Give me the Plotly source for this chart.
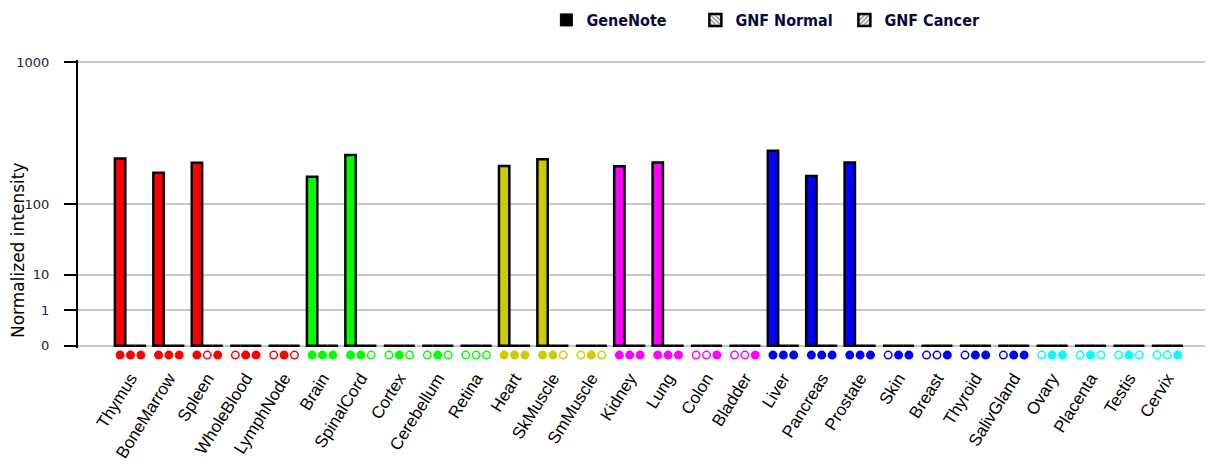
import math
import plotly.graph_objects as go

# ---------------- data ----------------
tissues = ["Thymus", "BoneMarrow", "Spleen", "WholeBlood", "LymphNode",
           "Brain", "SpinalCord", "Cortex", "Cerebellum", "Retina",
           "Heart", "SkMuscle", "SmMuscle",
           "Kidney", "Lung", "Colon", "Bladder",
           "Liver", "Pancreas", "Prostate", "Skin", "Breast", "Thyroid", "SalivGland",
           "Ovary", "Placenta", "Testis", "Cervix"]

genenote = [252, 194, 233, 0, 0,
            179, 268, 0, 0, 0,
            220, 249, 0,
            219, 235, 0, 0,
            288, 182, 235, 0, 0, 0, 0,
            0, 0, 0, 0]
gnf_normal = [0, 0, 0, 0, 0, 0, 0, 0, 0, 0, 0, 0, 0, 0,
              0, 0, 0, 0, 0, 0, 0, 0, 0, 0, 0, 0, 0, 0]
gnf_cancer = [0, 0, 0, 0, 0, 0, 0, 0, 0, 0, 0, 0, 0, 0,
              0, 0, 0, 0, 0, 0, 0, 0, 0, 0, 0, 0, 0, 0]

tissue_colors = (["#FF0000"] * 5 + ["#00FF00"] * 5 + ["#CCCC00"] * 3 +
                 ["#FF00FF"] * 4 + ["#0000FF"] * 7 + ["#00FFFF"] * 4)

# presence calls (1 = filled dot, 0 = open dot) for the three series
presence = ["111", "111", "101", "011", "010",
            "111", "110", "010", "010", "000",
            "111", "110", "010",
            "111", "111", "001", "001",
            "111", "111", "111", "011", "001", "011", "011",
            "011", "010", "010", "001"]

y_tick_values = [0, 1, 10, 100, 1000]
series_names = ["GeneNote", "GNF Normal", "GNF Cancer"]

# ---------------- scale ----------------
EXP = math.log10(2)


def tr(v):
    return v ** EXP if v > 0 else 0.0


BARGAP = 0.19
xs = list(range(len(tissues)))
bw = (1 - BARGAP) / 3

fig = go.Figure()

# legend-only proxy for GeneNote (black square)
fig.add_trace(go.Bar(x=[None], y=[None], name=series_names[0], xaxis="x", yaxis="y2",
                     marker=dict(color="black", line=dict(color="black", width=1)),
                     showlegend=True))

fig.add_trace(go.Bar(x=xs, y=[tr(v) for v in genenote], name=series_names[0],
                     marker=dict(color=tissue_colors, line=dict(color="black", width=2.5)),
                     showlegend=False))
fig.add_trace(go.Bar(x=xs, y=[tr(v) for v in gnf_normal], name=series_names[1],
                     marker=dict(color="white", line=dict(color="black", width=2.5),
                                 pattern=dict(shape="\\", fgcolor="black", bgcolor="white",
                                              size=4, solidity=0.4)),
                     showlegend=True))
fig.add_trace(go.Bar(x=xs, y=[tr(v) for v in gnf_cancer], name=series_names[2],
                     marker=dict(color="white", line=dict(color="black", width=2.5),
                                 pattern=dict(shape="/", fgcolor="black", bgcolor="white",
                                              size=4, solidity=0.4)),
                     showlegend=True))

# presence dots below each group
dx, dy, dfill, dline = [], [], [], []
for i, p in enumerate(presence):
    for k, ch in enumerate(p):
        dx.append(i + (k - 1) * bw)
        dy.append(0)
        dline.append(tissue_colors[i])
        dfill.append(tissue_colors[i] if ch == "1" else "white")
fig.add_trace(go.Scatter(x=dx, y=dy, mode="markers", xaxis="x", yaxis="y2",
                         marker=dict(size=7.5, color=dfill, line=dict(color=dline, width=1.5)),
                         showlegend=False, cliponaxis=False, hoverinfo="skip"))

fig.update_layout(
    width=1210, height=468,
    margin=dict(l=78, r=5, t=60, b=106, autoexpand=False),
    paper_bgcolor="white", plot_bgcolor="white",
    barmode="group", bargap=BARGAP, bargroupgap=0,
    font=dict(family="Liberation Sans, Arial, sans-serif", color="black"),
    xaxis=dict(anchor="y2", range=[-1.367, 27.98], tickmode="array", tickvals=xs,
               ticktext=tissues, tickangle=-58, showgrid=False, zeroline=False,
               showline=False, ticks="", ticklabelstandoff=2,
               tickfont=dict(family="Liberation Sans, Arial, sans-serif", size=17, color="black")),
    yaxis=dict(anchor="x", domain=[0.0464, 1], range=[-0.06, 8.06], tickmode="array",
               tickvals=[tr(v) for v in y_tick_values],
               ticktext=[str(v) for v in y_tick_values],
               showgrid=True, gridcolor="#c8c8c8", gridwidth=1.5, zeroline=False,
               showline=True, linecolor="black", linewidth=2,
               ticks="outside", ticklen=12, tickcolor="black", tickwidth=1.5,
               ticklabelstandoff=12,
               tickfont=dict(family="DejaVu Sans, Verdana, sans-serif", size=13, color="#1c1c3c")),
    yaxis2=dict(anchor="x", domain=[0, 0.046], range=[-1, 1], visible=False),
    legend=dict(orientation="h", x=0.4156, xanchor="left", y=1 + 40 / 302, yanchor="middle",
                entrywidth=104, entrywidthmode="pixels",
                font=dict(family="DejaVu Sans Condensed, DejaVu Sans, sans-serif",
                          size=16, color="#0a0a3a", weight="bold"),
                bgcolor="rgba(0,0,0,0)"),
    annotations=[dict(text="Normalized intensity", xref="paper", yref="paper",
                      x=-60 / 1127, y=(362 - 250) / 302, xanchor="center", yanchor="middle",
                      textangle=-90, showarrow=False,
                      font=dict(family="DejaVu Sans, Verdana, sans-serif", size=17, color="black"))],
)

fig.write_html("out.html", config={"displayModeBar": False},
               post_script="document.body.style.margin='0';")
